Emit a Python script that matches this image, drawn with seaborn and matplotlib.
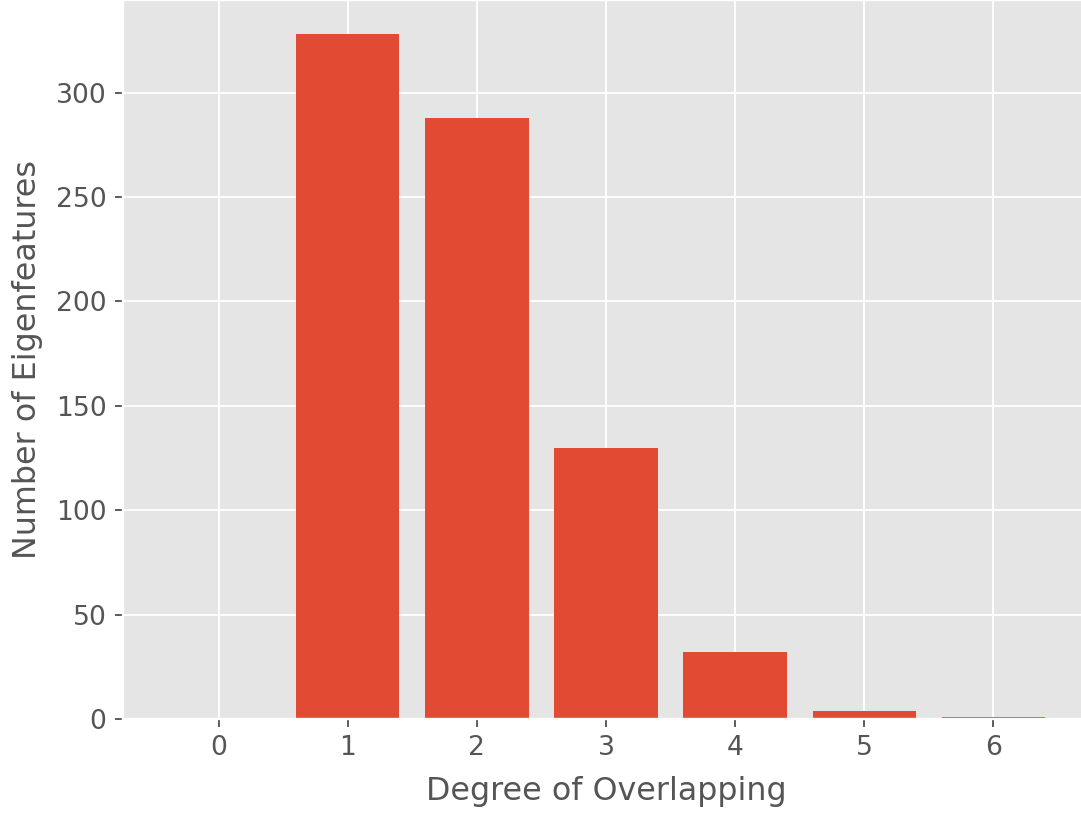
"""
Histogram of eigenfeature overlap degree
"""
import matplotlib
matplotlib.use("Agg")
import matplotlib.pyplot as plt
import seaborn as sns
import pandas as pd

# data
degrees = [0, 1, 2, 3, 4, 5, 6]
counts = [0, 328, 288, 130, 32, 4, 1]

plt.style.use("ggplot")
plt.rcParams['font.family'] = ['DejaVu Sans']
plt.rcParams['xtick.labelsize'] = 11.3
plt.rcParams['ytick.labelsize'] = 11.3
plt.rcParams['axes.labelsize'] = 13.5

df = pd.DataFrame({'degree': degrees, 'count': counts})

fig = plt.figure(figsize=(1081 / 169, 815 / 169), dpi=169)
# axes runs slightly past the right edge, as in the cropped original
ax = fig.add_axes([123 / 1081, 1 - 719 / 815, 966 / 1081, 719 / 815])

sns.barplot(data=df, x='degree', y='count', color='#E24A33', saturation=1,
            width=0.8, linewidth=0, ax=ax, errorbar=None)

ax.set_xlim(-0.74, 6.74)
ax.set_ylim(0, max(counts) * 1.05)
ax.grid(True, color='white')
ax.set_axisbelow(True)
ax.set_xlabel('Degree of Overlapping', labelpad=6)
ax.set_ylabel('Number of Eigenfeatures', labelpad=5.5)

fig.savefig('out.png', dpi=169)
